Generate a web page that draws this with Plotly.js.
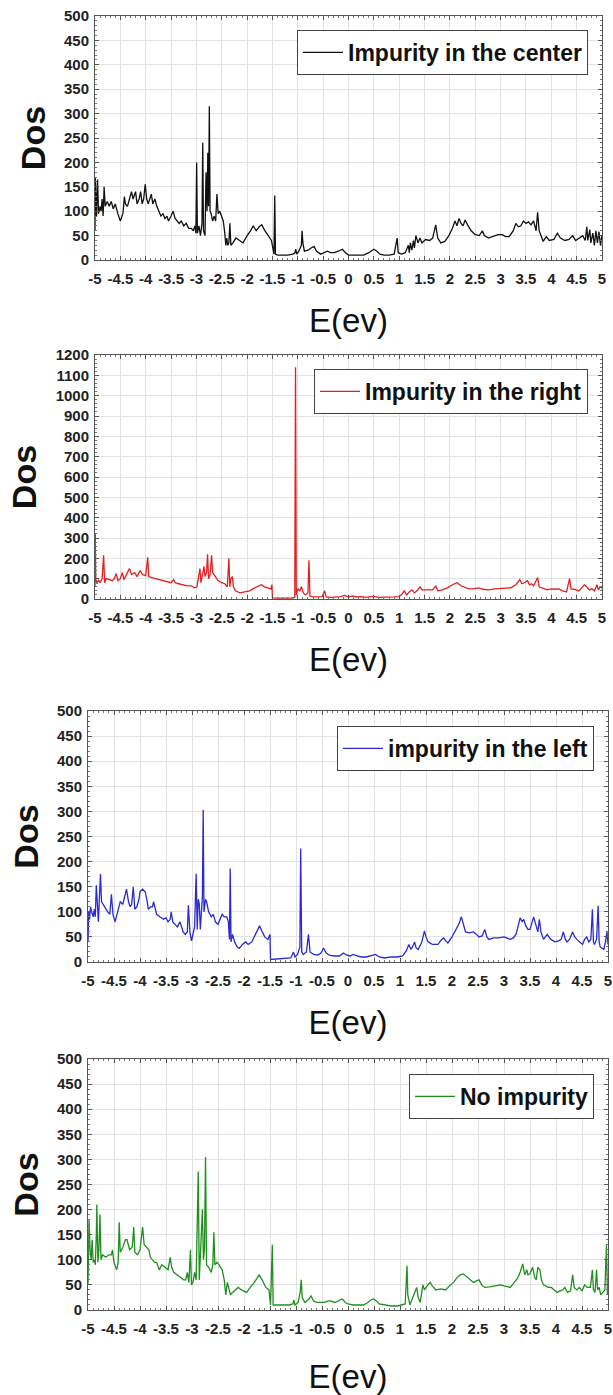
<!DOCTYPE html>
<html>
<head>
<meta charset="utf-8">
<script src="https://cdn.plot.ly/plotly-3.0.1.min.js"></script>
<style>
html,body{margin:0;padding:0;background:#fff;}
#chart{width:613px;height:1395px;}
</style>
</head>
<body>
<div id="chart"></div>
<script>
// ---------------- DATA (E in eV, DOS) ----------------
var seriesNames = ["Impurity in the center", "Impurity in the right", "impurity in the left", "No impurity"];
var xTickVals = [-5,-4.5,-4,-3.5,-3,-2.5,-2,-1.5,-1,-0.5,0,0.5,1,1.5,2,2.5,3,3.5,4,4.5,5];
var xTickText = ["-5","-4.5","-4","-3.5","-3","-2.5","-2","-1.5","-1","-0.5","0","0.5","1","1.5","2","2.5","3","3.5","4","4.5","5"];

var centerPts = [[-5.00,60],[-4.995,170],[-4.97,90],[-4.95,165],[-4.93,95],[-4.90,110],[-4.88,100],[-4.86,125],[-4.84,90],[-4.82,150],[-4.80,110],[-4.76,120],[-4.72,110],[-4.68,120],[-4.64,105],[-4.60,115],[-4.55,95],[-4.50,80],[-4.45,95],[-4.42,130],[-4.40,115],[-4.36,110],[-4.32,125],[-4.28,140],[-4.25,125],[-4.20,140],[-4.17,115],[-4.13,125],[-4.10,140],[-4.07,115],[-4.04,125],[-4.01,155],[-3.98,125],[-3.95,115],[-3.92,125],[-3.89,135],[-3.86,115],[-3.82,125],[-3.78,110],[-3.74,100],[-3.70,90],[-3.66,95],[-3.62,85],[-3.58,90],[-3.55,80],[-3.50,90],[-3.46,100],[-3.42,85],[-3.38,80],[-3.34,75],[-3.30,80],[-3.25,70],[-3.20,75],[-3.15,65],[-3.10,65],[-3.06,60],[-3.03,70],[-3.01,55],[-2.995,200],[-2.98,55],[-2.95,70],[-2.92,50],[-2.89,75],[-2.875,240],[-2.86,60],[-2.83,50],[-2.81,180],[-2.79,100],[-2.775,220],[-2.76,110],[-2.745,315],[-2.73,100],[-2.71,95],[-2.68,80],[-2.65,90],[-2.62,80],[-2.595,135],[-2.57,95],[-2.54,100],[-2.50,90],[-2.47,80],[-2.44,55],[-2.42,30],[-2.40,45],[-2.38,30],[-2.36,35],[-2.34,75],[-2.32,30],[-2.28,35],[-2.22,45],[-2.15,40],[-2.08,35],[-2.00,50],[-1.93,60],[-1.88,70],[-1.82,60],[-1.76,68],[-1.71,72],[-1.65,60],[-1.58,50],[-1.52,40],[-1.47,12],[-1.455,132],[-1.44,12],[-1.40,10],[-1.30,10],[-1.20,10],[-1.10,12],[-1.06,14],[-1.04,22],[-1.02,12],[-0.98,18],[-0.93,30],[-0.915,60],[-0.90,35],[-0.87,18],[-0.80,20],[-0.73,25],[-0.68,28],[-0.63,18],[-0.55,12],[-0.48,15],[-0.42,18],[-0.35,15],[-0.28,15],[-0.20,18],[-0.12,22],[-0.06,15],[0.0,10],[0.1,10],[0.2,10],[0.3,10],[0.4,15],[0.5,22],[0.56,18],[0.62,12],[0.7,10],[0.8,10],[0.9,12],[0.96,45],[0.98,15],[1.05,12],[1.12,15],[1.18,30],[1.20,15],[1.22,35],[1.25,20],[1.28,40],[1.30,25],[1.33,50],[1.37,35],[1.41,45],[1.45,35],[1.52,42],[1.60,40],[1.66,45],[1.72,72],[1.76,45],[1.82,35],[1.90,38],[1.98,50],[2.05,65],[2.10,80],[2.14,70],[2.18,85],[2.22,75],[2.26,70],[2.30,82],[2.36,70],[2.42,60],[2.50,52],[2.58,50],[2.64,60],[2.68,50],[2.76,45],[2.85,48],[2.95,52],[3.03,52],[3.10,48],[3.17,48],[3.25,60],[3.30,75],[3.35,68],[3.40,70],[3.45,80],[3.50,75],[3.55,78],[3.60,72],[3.65,80],[3.70,60],[3.73,98],[3.76,60],[3.80,50],[3.84,38],[3.90,48],[3.96,40],[4.05,42],[4.12,55],[4.18,45],[4.27,40],[4.35,42],[4.42,50],[4.48,40],[4.55,45],[4.62,50],[4.67,40],[4.70,68],[4.72,40],[4.76,62],[4.78,35],[4.82,55],[4.85,30],[4.88,60],[4.91,35],[4.94,58],[4.97,30],[5.0,50]];

var rightPts = [[-5.0,60],[-4.995,320],[-4.985,100],[-4.96,75],[-4.93,95],[-4.90,80],[-4.86,100],[-4.83,215],[-4.81,80],[-4.78,100],[-4.72,95],[-4.66,90],[-4.62,100],[-4.58,125],[-4.55,90],[-4.50,100],[-4.46,130],[-4.43,95],[-4.38,120],[-4.32,150],[-4.28,120],[-4.22,130],[-4.17,110],[-4.11,140],[-4.06,120],[-4.00,115],[-3.96,205],[-3.94,110],[-3.88,105],[-3.80,100],[-3.72,95],[-3.64,90],[-3.57,85],[-3.50,80],[-3.45,95],[-3.42,80],[-3.35,75],[-3.26,70],[-3.18,65],[-3.10,65],[-3.04,55],[-2.99,60],[-2.96,100],[-2.93,150],[-2.91,80],[-2.88,120],[-2.85,160],[-2.83,110],[-2.80,130],[-2.78,220],[-2.76,100],[-2.73,120],[-2.70,215],[-2.68,130],[-2.63,110],[-2.57,90],[-2.50,80],[-2.44,75],[-2.39,60],[-2.36,200],[-2.34,60],[-2.32,100],[-2.29,110],[-2.27,60],[-2.23,40],[-2.14,30],[-2.05,35],[-1.95,40],[-1.85,55],[-1.77,65],[-1.72,70],[-1.66,60],[-1.58,55],[-1.53,50],[-1.51,70],[-1.50,5],[-1.40,4],[-1.30,4],[-1.20,5],[-1.10,5],[-1.06,8],[-1.045,1140],[-1.03,20],[-1.00,50],[-0.96,40],[-0.93,60],[-0.89,30],[-0.85,20],[-0.80,30],[-0.78,190],[-0.76,15],[-0.70,10],[-0.60,10],[-0.52,12],[-0.47,40],[-0.44,10],[-0.35,8],[-0.25,10],[-0.15,12],[-0.08,18],[0.0,10],[0.08,15],[0.15,10],[0.25,12],[0.35,8],[0.45,12],[0.52,12],[0.6,8],[0.7,8],[0.8,8],[0.9,10],[1.0,12],[1.06,25],[1.10,40],[1.15,20],[1.20,35],[1.25,45],[1.30,30],[1.35,40],[1.41,60],[1.45,45],[1.52,45],[1.60,45],[1.66,45],[1.72,65],[1.76,40],[1.85,45],[1.95,55],[2.05,70],[2.14,80],[2.22,65],[2.30,55],[2.37,50],[2.45,50],[2.57,55],[2.65,48],[2.76,45],[2.88,50],[3.0,52],[3.10,50],[3.20,55],[3.30,70],[3.35,85],[3.38,95],[3.42,75],[3.47,80],[3.53,90],[3.57,70],[3.61,75],[3.65,65],[3.70,90],[3.73,105],[3.76,60],[3.82,55],[3.92,45],[4.00,50],[4.08,48],[4.15,50],[4.22,40],[4.30,35],[4.36,100],[4.39,50],[4.45,48],[4.54,40],[4.60,55],[4.65,70],[4.70,60],[4.75,45],[4.80,50],[4.85,40],[4.90,70],[4.93,45],[4.96,60],[5.0,55]];

var leftPts = [[-5.0,40],[-4.995,80],[-4.985,100],[-4.97,85],[-4.95,110],[-4.93,100],[-4.90,90],[-4.88,105],[-4.86,90],[-4.84,153],[-4.82,100],[-4.80,80],[-4.78,130],[-4.76,175],[-4.74,120],[-4.71,115],[-4.66,105],[-4.62,100],[-4.58,95],[-4.55,135],[-4.52,95],[-4.48,80],[-4.43,100],[-4.38,120],[-4.33,115],[-4.30,130],[-4.26,145],[-4.22,120],[-4.19,110],[-4.16,115],[-4.13,150],[-4.10,105],[-4.06,110],[-4.02,125],[-4.0,140],[-3.95,145],[-3.90,140],[-3.86,120],[-3.84,105],[-3.80,110],[-3.76,110],[-3.74,120],[-3.70,100],[-3.68,95],[-3.62,90],[-3.55,85],[-3.50,88],[-3.46,80],[-3.42,85],[-3.40,100],[-3.37,80],[-3.33,75],[-3.28,70],[-3.23,80],[-3.19,65],[-3.17,60],[-3.13,55],[-3.09,60],[-3.07,113],[-3.04,60],[-3.01,42],[-2.98,55],[-2.95,70],[-2.92,176],[-2.90,65],[-2.88,125],[-2.86,116],[-2.84,65],[-2.80,130],[-2.785,303],[-2.77,100],[-2.74,125],[-2.72,120],[-2.68,100],[-2.63,90],[-2.59,95],[-2.55,80],[-2.50,75],[-2.46,85],[-2.42,95],[-2.38,90],[-2.33,90],[-2.30,80],[-2.28,45],[-2.265,186],[-2.25,40],[-2.22,55],[-2.18,40],[-2.13,30],[-2.09,27],[-2.03,35],[-1.97,40],[-1.92,35],[-1.85,40],[-1.78,55],[-1.70,72],[-1.65,60],[-1.60,50],[-1.54,45],[-1.50,55],[-1.49,5],[-1.40,6],[-1.30,6],[-1.20,7],[-1.10,8],[-1.05,20],[-1.02,10],[-0.97,15],[-0.925,30],[-0.91,226],[-0.89,20],[-0.86,15],[-0.80,20],[-0.76,55],[-0.73,20],[-0.66,15],[-0.58,14],[-0.52,18],[-0.47,28],[-0.42,18],[-0.35,13],[-0.25,12],[-0.16,12],[-0.09,18],[-0.03,14],[0.04,12],[0.10,15],[0.18,12],[0.25,10],[0.35,10],[0.45,12],[0.53,15],[0.6,10],[0.7,8],[0.83,10],[0.95,10],[1.05,12],[1.12,22],[1.17,35],[1.21,25],[1.24,30],[1.28,40],[1.31,28],[1.35,25],[1.42,40],[1.47,62],[1.50,50],[1.54,40],[1.62,35],[1.68,35],[1.73,35],[1.80,45],[1.84,48],[1.88,42],[1.92,38],[2.0,50],[2.07,65],[2.13,75],[2.18,90],[2.22,72],[2.26,60],[2.33,58],[2.41,60],[2.47,55],[2.52,50],[2.58,52],[2.63,65],[2.67,50],[2.71,45],[2.80,48],[2.90,48],[3.0,50],[3.06,48],[3.12,45],[3.18,48],[3.23,55],[3.28,75],[3.31,88],[3.35,80],[3.38,85],[3.42,72],[3.46,65],[3.50,65],[3.54,80],[3.57,90],[3.61,75],[3.65,60],[3.68,85],[3.71,60],[3.76,45],[3.80,52],[3.83,55],[3.90,45],[3.98,40],[4.05,42],[4.10,45],[4.14,60],[4.18,45],[4.21,40],[4.26,45],[4.32,60],[4.36,50],[4.40,45],[4.46,40],[4.51,35],[4.55,45],[4.59,50],[4.63,40],[4.67,45],[4.70,105],[4.72,40],[4.74,35],[4.78,45],[4.81,112],[4.83,40],[4.85,30],[4.88,28],[4.92,25],[4.95,40],[4.98,60],[5.0,35]];

var noImpPts = [[-5.0,50],[-4.995,100],[-4.98,180],[-4.96,120],[-4.94,100],[-4.92,140],[-4.90,95],[-4.88,100],[-4.86,90],[-4.84,150],[-4.83,210],[-4.81,95],[-4.79,120],[-4.77,190],[-4.75,100],[-4.72,110],[-4.66,105],[-4.60,110],[-4.55,110],[-4.53,120],[-4.50,95],[-4.45,80],[-4.42,95],[-4.40,175],[-4.38,115],[-4.33,125],[-4.28,140],[-4.25,140],[-4.20,120],[-4.15,125],[-4.12,165],[-4.10,115],[-4.05,110],[-4.00,120],[-3.95,165],[-3.92,130],[-3.88,125],[-3.83,120],[-3.80,105],[-3.76,100],[-3.72,95],[-3.68,95],[-3.63,80],[-3.58,90],[-3.52,85],[-3.46,80],[-3.42,105],[-3.39,85],[-3.35,75],[-3.28,70],[-3.22,65],[-3.16,60],[-3.12,60],[-3.09,75],[-3.06,55],[-3.03,120],[-3.01,50],[-2.98,55],[-2.95,75],[-2.92,60],[-2.88,276],[-2.86,60],[-2.83,130],[-2.80,200],[-2.78,100],[-2.76,120],[-2.74,305],[-2.72,90],[-2.68,85],[-2.63,75],[-2.60,90],[-2.58,155],[-2.56,90],[-2.52,95],[-2.48,90],[-2.42,80],[-2.38,60],[-2.35,30],[-2.32,55],[-2.29,40],[-2.26,30],[-2.22,35],[-2.16,40],[-2.11,45],[-2.05,40],[-1.95,35],[-1.88,45],[-1.80,55],[-1.71,70],[-1.65,60],[-1.58,45],[-1.52,40],[-1.49,10],[-1.455,130],[-1.44,10],[-1.35,10],[-1.25,10],[-1.13,10],[-1.06,12],[-1.04,20],[-1.02,10],[-0.96,15],[-0.92,35],[-0.90,60],[-0.88,25],[-0.83,15],[-0.75,22],[-0.71,28],[-0.66,18],[-0.60,15],[-0.50,15],[-0.45,15],[-0.38,18],[-0.34,18],[-0.25,15],[-0.18,18],[-0.11,22],[-0.05,15],[0.0,12],[0.1,10],[0.2,10],[0.3,10],[0.38,15],[0.44,20],[0.49,22],[0.55,18],[0.60,12],[0.70,10],[0.83,8],[0.95,8],[1.05,10],[1.10,12],[1.135,88],[1.15,30],[1.19,10],[1.25,25],[1.30,40],[1.32,45],[1.35,25],[1.39,15],[1.44,50],[1.47,40],[1.50,45],[1.54,50],[1.58,55],[1.62,48],[1.69,40],[1.78,42],[1.88,40],[1.95,48],[2.03,55],[2.10,65],[2.16,70],[2.22,72],[2.30,65],[2.36,58],[2.41,55],[2.47,58],[2.52,60],[2.57,50],[2.63,45],[2.72,46],[2.82,48],[2.93,50],[3.0,48],[3.06,46],[3.12,45],[3.20,55],[3.27,65],[3.31,75],[3.36,92],[3.40,70],[3.44,80],[3.46,70],[3.50,72],[3.55,85],[3.59,65],[3.62,60],[3.65,85],[3.69,80],[3.72,60],[3.76,50],[3.80,48],[3.85,45],[3.91,45],[3.96,40],[4.02,35],[4.08,38],[4.13,40],[4.17,45],[4.22,35],[4.28,38],[4.32,70],[4.35,45],[4.40,40],[4.45,45],[4.50,38],[4.55,50],[4.60,45],[4.66,45],[4.70,80],[4.72,40],[4.75,35],[4.78,80],[4.80,40],[4.83,45],[4.86,30],[4.90,35],[4.94,40],[4.97,130],[4.99,30],[5.0,40]];

var yRanges = [[0,500],[0,1200],[0,500],[0,500]];
var yDticks = [50,100,50,50];

// ---------------- STYLE / LAYOUT ----------------
var allPts = [centerPts, rightPts, leftPts, noImpPts];
var colors = ['#111111', '#e41f1f', '#2a2ad0', '#1f8f1f'];
var FONT = 'Liberation Sans, Arial, Helvetica, sans-serif';
var W = 613, H = 1395, ML = 60, MR = 5, MT = 10, MB = 10;
var PW = W - ML - MR, PH = H - MT - MB;
function fx(px){ return (px - ML) / PW; }
function fy(py){ return 1 - (py - MT) / PH; }
// panel boxes in page pixels [left, right, top, bottom]
var boxes = [[95,602,16,260],[95,602,355,599],[88,608,711,962],[88,608,1059,1310]];
var legendBoxes = [[588,30],[588,369],[594,726],[594,1074]];
var xTitleStandoff = [22, 22, 22, 37];

var traces = [];
var layout = {
  width: W, height: H,
  margin: {l: ML, r: MR, t: MT, b: MB},
  paper_bgcolor: '#ffffff', plot_bgcolor: '#ffffff',
  font: {family: FONT, color: '#111'},
  showlegend: true
};

for (var i = 0; i < 4; i++) {
  var s = i === 0 ? '' : String(i + 1);
  var pts = allPts[i];
  traces.push({
    type: 'scatter', mode: 'lines',
    x: pts.map(function(p){return p[0];}),
    y: pts.map(function(p){return p[1];}),
    name: seriesNames[i],
    line: {color: colors[i], width: 1.3},
    xaxis: 'x' + s, yaxis: 'y' + s,
    legend: 'legend' + s
  });
  var b = boxes[i];
  layout['xaxis' + s] = {
    domain: [fx(b[0]), fx(b[1])], anchor: 'y' + s,
    range: [-5, 5], tickmode: 'array', tickvals: xTickVals, ticktext: xTickText,
    tickangle: 0, tickfont: {size: 15, weight: 'bold', family: FONT, color: '#222'},
    ticklabelstandoff: 5,
    showgrid: true, gridcolor: '#e2e2e2', gridwidth: 1, zeroline: false,
    showline: true, linecolor: '#555', linewidth: 1, mirror: 'allticks',
    ticks: 'inside', ticklen: 4, tickcolor: '#555',
    minor: {ticks: 'inside', ticklen: 2, dtick: 0.1, tick0: -5, tickcolor: '#777', showgrid: false},
    title: {text: 'E(ev)', font: {size: 33, family: FONT, color: '#111'}, standoff: xTitleStandoff[i]},
    automargin: false, fixedrange: true
  };
  layout['yaxis' + s] = {
    domain: [fy(b[3]), fy(b[2])], anchor: 'x' + s,
    range: yRanges[i], dtick: yDticks[i], tick0: 0,
    tickfont: {size: 15, weight: 'bold', family: FONT, color: '#222'},
    ticklabelstandoff: 2,
    showgrid: true, gridcolor: '#e2e2e2', gridwidth: 1, zeroline: false,
    showline: true, linecolor: '#555', linewidth: 1, mirror: 'allticks',
    ticks: 'inside', ticklen: 4, tickcolor: '#555',
    minor: {ticks: 'inside', ticklen: 2, dtick: yDticks[i] / 5, tickcolor: '#777', showgrid: false},
    title: {text: 'Dos', font: {size: 34, weight: 'bold', family: FONT, color: '#111'}, standoff: 8},
    automargin: false, fixedrange: true
  };
  var lb = legendBoxes[i];
  layout['legend' + s] = {
    x: fx(lb[0]), y: fy(lb[1]), xanchor: 'right', yanchor: 'top',
    bgcolor: '#ffffff', bordercolor: '#444', borderwidth: 1,
    font: {size: 23, weight: 'bold', family: FONT, color: '#111'},
    itemwidth: 40, tracegroupgap: 0
  };
}

Plotly.newPlot('chart', traces, layout, {staticPlot: true, displayModeBar: false});
</script>
</body>
</html>
